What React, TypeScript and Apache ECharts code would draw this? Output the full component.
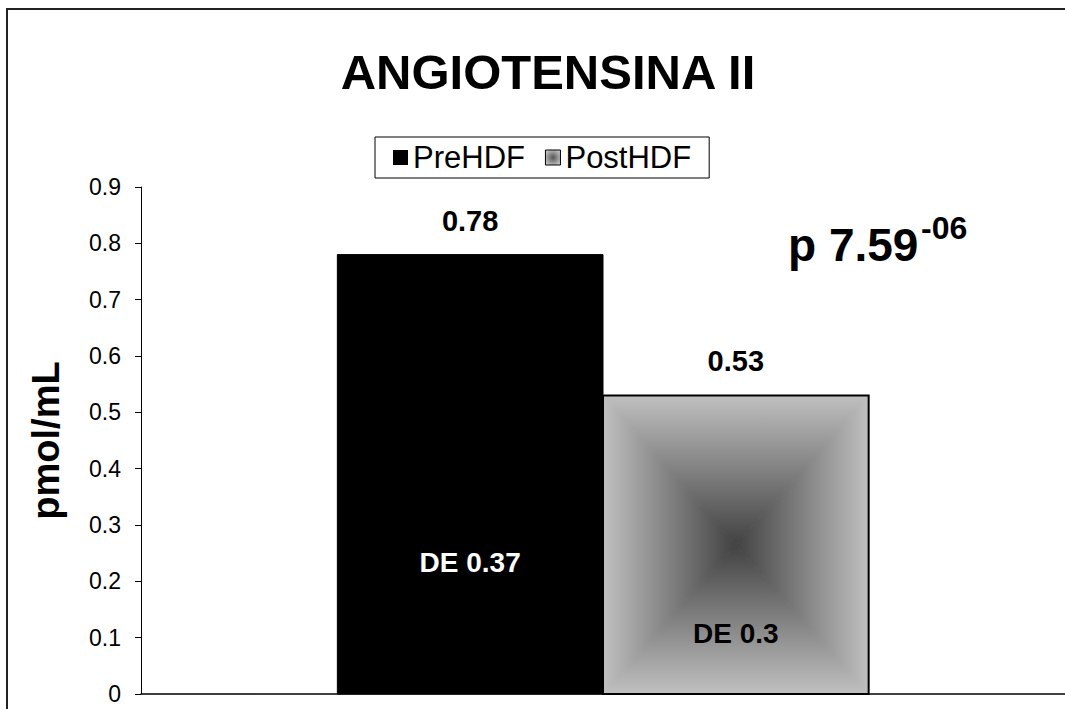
import React, { useEffect, useRef } from "react";
import * as echarts from "echarts";

// Chart data
const categories = ["ANGIOTENSINA II"];
const seriesNames = ["PreHDF", "PostHDF"];
const preHDF = [0.78];
const postHDF = [0.53];
const preSD = [0.37];
const postSD = [0.3];
const yMin = 0;
const yMax = 0.9;
const yStep = 0.1;

const FONT = '"Liberation Sans", Arial, Helvetica, sans-serif';

const EDGE_GRAY = "#c0c0c0";
const CENTER_GRAY = "#424242";

function lg(x: number, y: number, x2: number, y2: number, from: string, to: string) {
  return new echarts.graphic.LinearGradient(x, y, x2, y2, [
    { offset: 0, color: from },
    { offset: 1, color: to },
  ]);
}

// Bar drawn from its value on the axes; the post-treatment bar gets a box gradient
function makeRenderItem(kind: "pre" | "post") {
  return (params: any, api: any) => {
    const cat = api.value(0);
    const v = api.value(1);
    const sd = api.value(2);
    const base = api.coord([cat, 0]);
    const top = api.coord([cat, v]);
    const band = api.size([1, 0])[0];
    const w = band * 0.2875;
    const x0 = kind === "pre" ? base[0] - w : base[0];
    const x1 = x0 + w;
    const y0 = top[1];
    const y1 = base[1];
    const cx = (x0 + x1) / 2;
    const cy = (y0 + y1) / 2;
    const children: any[] = [];
    if (kind === "pre") {
      children.push({
        type: "rect",
        shape: { x: x0, y: y0, width: w, height: y1 - y0 },
        style: { fill: "#000", stroke: "#000", lineWidth: 1 },
      });
    } else {
      const tri = (pts: number[][], grad: any) => ({
        type: "polygon",
        shape: { points: pts },
        style: { fill: grad, stroke: grad, lineWidth: 1 },
      });
      children.push(tri([[x0, y0], [x1, y0], [cx, cy]], lg(0, 0, 0, 1, EDGE_GRAY, CENTER_GRAY)));
      children.push(tri([[x0, y1], [x1, y1], [cx, cy]], lg(0, 0, 0, 1, CENTER_GRAY, EDGE_GRAY)));
      children.push(tri([[x0, y0], [x0, y1], [cx, cy]], lg(0, 0, 1, 0, EDGE_GRAY, CENTER_GRAY)));
      children.push(tri([[x1, y0], [x1, y1], [cx, cy]], lg(0, 0, 1, 0, CENTER_GRAY, EDGE_GRAY)));
      children.push({
        type: "rect",
        shape: { x: x0, y: y0, width: w, height: y1 - y0 },
        style: { fill: "none", stroke: "#000", lineWidth: 2 },
      });
    }
    // value above the bar
    children.push({
      type: "text",
      style: {
        text: String(v),
        x: cx,
        y: y0 - 34,
        align: "center",
        verticalAlign: "middle",
        fontFamily: FONT,
        fontWeight: "bold",
        fontSize: 29,
        fill: "#000",
      },
    });
    // standard deviation inside the bar
    const sdLevel = kind === "pre" ? 0.233 : 0.108;
    children.push({
      type: "text",
      style: {
        text: "DE " + sd,
        x: cx,
        y: api.coord([cat, sdLevel])[1],
        align: "center",
        verticalAlign: "middle",
        fontFamily: FONT,
        fontWeight: "bold",
        fontSize: 28,
        fill: kind === "pre" ? "#fff" : "#000",
      },
    });
    return { type: "group", children };
  };
}

export default function App() {
  const ref = useRef<HTMLDivElement>(null);

  useEffect(() => {
    if (!ref.current) return;
    const chart = echarts.init(ref.current, null, { renderer: "svg" });

    const legendPostColor = new echarts.graphic.RadialGradient(0.5, 0.5, 0.6, [
      { offset: 0, color: "#555" },
      { offset: 1, color: "#c8c8c8" },
    ]);

    chart.setOption({
      animation: false,
      backgroundColor: "#fff",
      title: {
        text: "ANGIOTENSINA II",
        left: 543,
        top: 42,
        textAlign: "center",
        textStyle: { fontFamily: FONT, fontWeight: "bold", fontSize: 49, color: "#000" },
      },
      legend: {
        data: [
          { name: seriesNames[0], icon: "rect", itemStyle: { color: "#000" } },
          {
            name: seriesNames[1],
            icon: "rect",
            itemStyle: { color: legendPostColor, borderColor: "#000", borderWidth: 1 },
          },
        ],
        left: 375,
        top: 137,
        borderColor: "#000",
        borderWidth: 1,
        padding: [5, 18],
        itemWidth: 15,
        itemHeight: 15,
        itemGap: 20,
        textStyle: { fontFamily: FONT, fontSize: 31, color: "#000" },
        selectedMode: false,
      },
      grid: { left: 141, top: 187, width: 935, height: 507, containLabel: false },
      xAxis: {
        type: "category",
        data: categories,
        axisLine: { show: true, lineStyle: { color: "#000", width: 1.5 } },
        axisTick: { show: false },
        axisLabel: { show: false },
        splitLine: { show: false },
      },
      yAxis: {
        type: "value",
        min: yMin,
        max: yMax,
        interval: yStep,
        name: "pmol/mL",
        nameLocation: "middle",
        nameRotate: 90,
        nameGap: 76,
        nameTextStyle: { fontFamily: FONT, fontWeight: "bold", fontSize: 38, color: "#000" },
        axisLine: { show: true, lineStyle: { color: "#000", width: 1 } },
        axisTick: { show: true, length: 6, lineStyle: { color: "#000" } },
        axisLabel: {
          margin: 20,
          fontFamily: FONT,
          fontSize: 23,
          color: "#000",
          formatter: (v: number) => (v === 0 ? "0" : v.toFixed(1)),
        },
        splitLine: { show: false },
      },
      graphic: [
        {
          type: "polyline",
          shape: { points: [[1080, 9], [7, 9], [7, 730]] },
          style: { fill: "none", stroke: "#222", lineWidth: 2 },
          silent: true,
        },
        {
          type: "text",
          x: 788,
          y: 222,
          style: { text: "p 7.59", fontFamily: FONT, fontWeight: "bold", fontSize: 46, fill: "#000" },
        },
        {
          type: "text",
          x: 921,
          y: 212,
          style: { text: "-06", fontFamily: FONT, fontWeight: "bold", fontSize: 32, fill: "#000" },
        },
      ],
      series: [
        {
          name: seriesNames[0],
          type: "custom",
          renderItem: makeRenderItem("pre"),
          data: categories.map((_, i) => [i, preHDF[i], preSD[i]]),
          encode: { x: 0, y: 1 },
          itemStyle: { color: "#000" },
        },
        {
          name: seriesNames[1],
          type: "custom",
          renderItem: makeRenderItem("post"),
          data: categories.map((_, i) => [i, postHDF[i], postSD[i]]),
          encode: { x: 0, y: 1 },
          itemStyle: { color: "#888" },
        },
      ],
    });

    return () => chart.dispose();
  }, []);

  return (
    <div
      ref={ref}
      style={{ position: "absolute", left: 0, top: 0, width: 1065, height: 709, background: "#fff" }}
    />
  );
}
